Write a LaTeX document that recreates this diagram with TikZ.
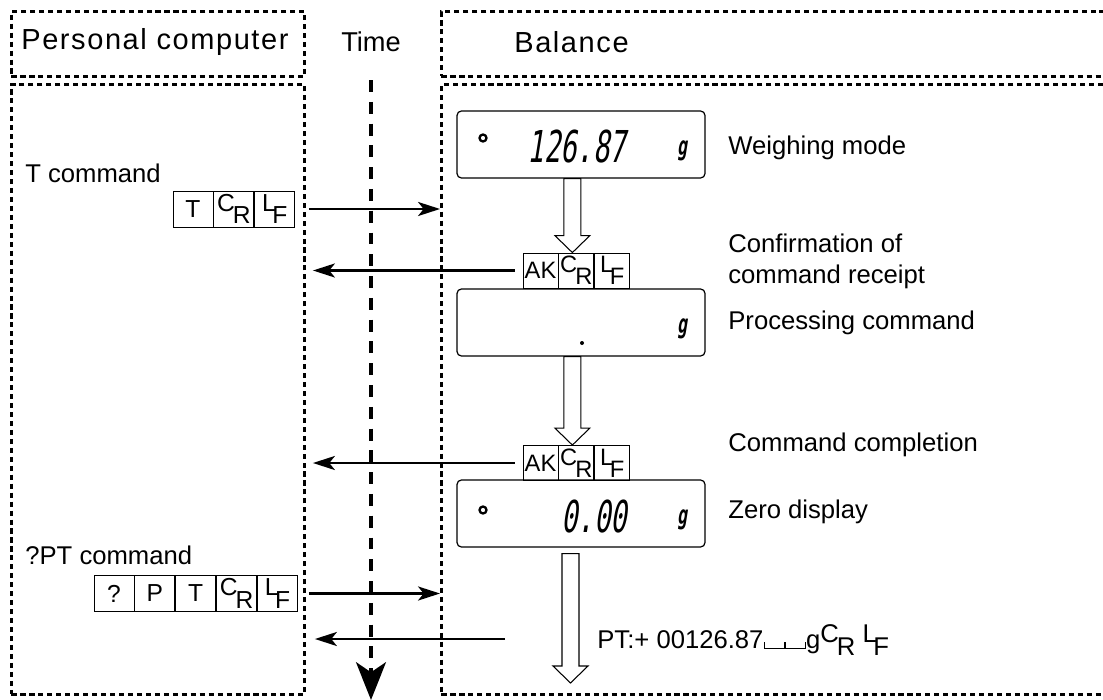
\documentclass[tikz,border=0pt]{standalone}
\usepackage{fontspec}
\setmainfont{Liberation Sans}
\newfontfamily\lcdfont{DejaVu Sans Mono}[FakeSlant=0.16,FakeStretch=0.62]
\newfontfamily\spacedfont{Liberation Sans}[LetterSpace=5.5]
\usetikzlibrary{arrows.meta,positioning,calc}
\newcommand{\cRet}{\raisebox{.25em}{C}\kern-.08em\raisebox{-.25em}{R}}
\newcommand{\lFeed}{\raisebox{.25em}{L}\kern-.14em\raisebox{-.25em}{F}}
\newcommand{\blankmark}{\rule{.6pt}{.28em}\rule{.75em}{.6pt}\rule{.6pt}{.28em}}
\tikzset{
  panel/.style={
    draw,
    line width=1.7pt,
    dash pattern=on 2.9pt off 2.2pt,
    inner sep=0pt
  },
  hdrfont/.style={font=\fontsize{15.5}{18}\selectfont},
  bigtitle/.style={font=\fontsize{16.5}{19}\spacedfont, anchor=west, inner sep=0pt},
  bodytext/.style={font=\fontsize{14.6}{17.5}\selectfont, anchor=west, inner sep=0pt, align=left},
  cell/.style={
    draw,
    line width=0.5pt,
    minimum width=0.8cm,
    minimum height=0.72cm,
    inner sep=0pt,
    font=\fontsize{14}{16}\selectfont
  },
  akcell/.style={cell, minimum width=0.7cm, minimum height=0.7cm, font=\fontsize{13.5}{16}\selectfont},
  lcd/.style={draw, line width=0.7pt, rounded corners=2.5pt, minimum width=4.96cm, minimum height=1.34cm},
  lcdnum/.style={font=\fontsize{25}{25}\lcdfont, inner sep=0pt},
  lcdunit/.style={font=\fontsize{15}{15}\lcdfont\bfseries, inner sep=0pt},
  lcdmark/.style={circle, draw, line width=1.3pt, minimum size=0.14cm, inner sep=0pt},
  msgarrow/.style={-{Stealth[length=12.5pt,width=8pt,inset=3.2pt]}, line width=1.35pt},
  hollowarrow/.style={draw, fill=white, line width=0.6pt, line join=miter},
  timeline/.style={-{Stealth[length=21.5pt,width=17pt,inset=5.7pt]}, line width=2pt, dash pattern=on 6.8pt off 5.6pt}
}

\begin{document}
\begin{tikzpicture}[x=0.02cm,y=-0.02cm]
\useasboundingbox (0,0) rectangle (1103,700);
\clip (0,0) rectangle (1103,700);

% the two sides
\node[panel,anchor=north west,minimum width=5.86cm,minimum height=1.3cm] (pchead) at (10,10) {};
\node[bigtitle] (pctitle) at (21,42) {Personal computer};
\node[panel,anchor=north west,minimum width=5.86cm,minimum height=12.2cm] (pcbody) at (10,83) {};
\node[panel,anchor=north west,minimum width=13.6cm,minimum height=1.3cm] (balhead) at (440,10) {};
\node[panel,anchor=north west,minimum width=13.6cm,minimum height=12.2cm] (balbody) at (440,83) {};
\node[bigtitle] (baltitle) at (514,42) {Balance};

% time axis
\node[hdrfont] (timetitle) at (371,42) {Time};
\coordinate (tltop) at (371,80);
\coordinate (tlend) at (371,700);
\draw[timeline] (tltop) -- (tlend);

% commands sent by the computer
\node[bodytext] (tlabel) at (25,173) {T command};
\node[cell] (tcmdT) at (193,209) {T};
\node[cell,right=0pt of tcmdT] (tcmdC) {\cRet};
\node[cell,right=0pt of tcmdC] (tcmdL) {\lFeed};

\node[bodytext] (ptlabel) at (25,555) {?PT command};
\node[cell] (ptcmdQ) at (114,593.5) {?};
\node[cell,right=0pt of ptcmdQ] (ptcmdP) {P};
\node[cell,right=0pt of ptcmdP] (ptcmdT) {T};
\node[cell,right=0pt of ptcmdT] (ptcmdC) {\cRet};
\node[cell,right=0pt of ptcmdC] (ptcmdL) {\lFeed};

% balance displays
\node[lcd] (lcd1) at (581,144.5) {};
\node[lcdmark] (mark1) at (483,138) {};
\node[lcdnum] (num1) at (577,147) {126.87};
\node[lcdunit] (unit1) at (682,151) {g};
\node[bodytext] (weigh) at (728,148) {Weighing mode};

\node[akcell] (ak1A) at (540.5,270.5) {AK};
\node[akcell,right=0pt of ak1A] (ak1C) {\cRet};
\node[akcell,right=0pt of ak1C] (ak1L) {\lFeed};
\node[bodytext] (confirm) at (728,261) {Confirmation of\\command receipt};

\node[lcd] (lcd2) at (581,322.5) {};
\node[circle,fill,inner sep=0pt,minimum size=0.08cm] (dot2) at (582,343) {};
\node[lcdunit] (unit2) at (682,329) {g};
\node[bodytext] (process) at (728,323) {Processing command};

\node[akcell] (ak2A) at (540.5,463) {AK};
\node[akcell,right=0pt of ak2A] (ak2C) {\cRet};
\node[akcell,right=0pt of ak2C] (ak2L) {\lFeed};
\node[bodytext] (complete) at (728,445) {Command completion};

\node[lcd] (lcd3) at (581,513.5) {};
\node[lcdmark] (mark3) at (483,510) {};
\node[lcdnum] (num3) at (594,517) {0.00};
\node[lcdunit] (unit3) at (682,520) {g};
\node[bodytext] (zero) at (728,512) {Zero display};

\node[bodytext] (ptreply) at (597,640) {PT:+ 00126.87\blankmark\blankmark g\cRet\ \lFeed};

% hollow arrows inside the balance
\path (ak1C.north) ++(-4,0) coordinate (tip1);
\path (ak2C.north) ++(-4,0) coordinate (tip2);
\coordinate (tip3) at (570.5,683);
\draw[hollowarrow] (tip1) -- ++(-17.5,-17) -- ++(9,0) -- ($(tip1 |- lcd1.south)+(-8.5,0)$) -- ++(17,0) -- ($(tip1)+(8.5,-17)$) -- ++(9,0) -- cycle;
\draw[hollowarrow] (tip2) -- ++(-17.5,-17) -- ++(9,0) -- ($(tip2 |- lcd2.south)+(-8.5,0)$) -- ++(17,0) -- ($(tip2)+(8.5,-17)$) -- ++(9,0) -- cycle;
\draw[hollowarrow] (tip3) -- ++(-17.5,-17) -- ++(9,0) -- ($(tip3 |- lcd3.south)+(-8.5,6)$) -- ++(17,0) -- ($(tip3)+(8.5,-17)$) -- ++(9,0) -- cycle;

% messages between the two sides
\coordinate (ptsrc) at (505,639);
\draw[msgarrow] ($(tcmdL.east -| pcbody.east)+(3,0)$) -- (tcmdL.east -| balbody.west);
\draw[msgarrow] ($(ak1A.west)+(-8,0)$) -- ($(ak1A.west -| pcbody.east)+(7,0)$);
\draw[msgarrow] ($(ak2A.west)+(-8,0)$) -- ($(ak2A.west -| pcbody.east)+(7,0)$);
\draw[msgarrow] ($(ptcmdL.east -| pcbody.east)+(3,0)$) -- (ptcmdL.east -| balbody.west);
\draw[msgarrow] (ptsrc) -- ($(ptsrc -| pcbody.east)+(9,0)$);
\end{tikzpicture}
\end{document}
